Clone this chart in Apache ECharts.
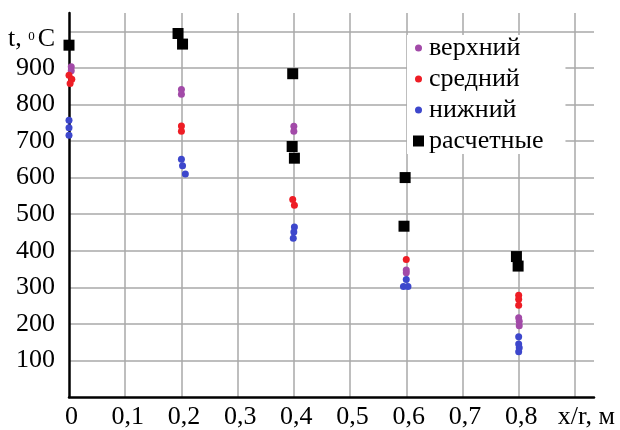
<!DOCTYPE html>
<html>
<head>
<meta charset="utf-8">
<script src="https://cdn.jsdelivr.net/npm/echarts@6/dist/echarts.min.js"></script>
<style>html,body{margin:0;padding:0;background:#fff}#c{width:620px;height:430px}</style>
</head>
<body>
<div id="c"></div>
<script>
// x/r positions and temperatures (°C)
const upperPts = [[0.004, 903], [0.004, 892], [0.2, 841], [0.2, 828], [0.4, 740], [0.4, 727], [0.6, 347], [0.6, 340], [0.8, 217], [0.801, 207], [0.801, 195]];
const middlePts = [[0.0, 880], [0.005, 869], [0.002, 857], [0.2, 741], [0.2, 727], [0.398, 540], [0.401, 524], [0.6, 376], [0.8, 278], [0.8, 267], [0.8, 251]];
const lowerPts = [[0, 757], [0, 736], [0, 716], [0.2, 650], [0.202, 632], [0.207, 610], [0.401, 465], [0.4, 451], [0.399, 434], [0.6, 321], [0.595, 302], [0.603, 302], [0.8, 165], [0.8, 145], [0.801, 135], [0.8, 124]];
const calcPts = [[0, 962], [0.194, 994], [0.202, 965], [0.398, 884], [0.397, 685], [0.401, 653], [0.598, 600], [0.596, 467], [0.796, 384], [0.799, 358]];

const seriesNames = ['верхний', 'средний', 'нижний', 'расчетные'];
const xTickLabels = ['0', '0,1', '0,2', '0,3', '0,4', '0,5', '0,6', '0,7', '0,8', '{u|x/r, м}'];
const yTickLabels = ['', '100', '200', '300', '400', '500', '600', '700', '800', '900', '{t|t, }{s|0}{t|C}'];

const FONT = 'Liberation Serif';
const chart = echarts.init(document.getElementById('c'), null, {renderer: 'canvas'});
const circleIcon = 'path://M0,0M11,11M5.5,2A3.5,3.5,0,1,1,5.5,9A3.5,3.5,0,1,1,5.5,2Z';

chart.setOption({
  animation: false,
  backgroundColor: '#fff',
  grid: {left: 69, right: 26, top: 13, bottom: 32, containLabel: false},
  xAxis: {
    type: 'value', min: 0, max: 0.934, interval: 0.1,
    axisLine: {show: true, onZero: true, lineStyle: {color: '#000', width: 2.5}},
    axisTick: {show: false},
    splitLine: {show: true, showMinLine: false, showMaxLine: false, lineStyle: {color: '#a8a8a8', width: 1.5}},
    axisLabel: {
      show: true, showMaxLabel: false, color: '#000', fontFamily: FONT, fontSize: 26, margin: 7,
      padding: [0, 0, 0, 5],
      formatter: function (v) {
        const i = Math.round(v * 10);
        if (Math.abs(v * 10 - i) > 0.01) return '';
        return xTickLabels[i] || '';
      },
      rich: {u: {fontFamily: FONT, fontSize: 26, color: '#000', padding: [0, 0, 0, 18]}}
    }
  },
  yAxis: {
    type: 'value', min: 0, max: 1050, interval: 100,
    axisLine: {show: true, onZero: true, lineStyle: {color: '#000', width: 2.5}},
    axisTick: {show: false},
    splitLine: {show: true, showMinLine: false, showMaxLine: false, lineStyle: {color: '#a8a8a8', width: 1.5}},
    axisLabel: {
      show: true, showMaxLabel: false, color: '#000', fontFamily: FONT, fontSize: 26, margin: 14,
      formatter: function (v) {
        if (v % 100 !== 0) return '';
        return yTickLabels[v / 100] || '';
      },
      rich: {
        t: {fontFamily: FONT, fontSize: 26, color: '#000', padding: [16, 0, 0, 0]},
        s: {fontFamily: FONT, fontSize: 13, color: '#000', verticalAlign: 'top', padding: [20, 3, 0, 0]}
      }
    }
  },
  legend: {
    orient: 'vertical', left: 407, top: 35,
    backgroundColor: '#fff', padding: [0, 22, 0, 6], itemGap: 5,
    itemWidth: 11, itemHeight: 11,
    textStyle: {fontFamily: FONT, fontSize: 26, color: '#000', padding: [0, 0, 0, 0]},
    data: [
      {name: seriesNames[0], icon: circleIcon},
      {name: seriesNames[1], icon: circleIcon},
      {name: seriesNames[2], icon: circleIcon},
      {name: seriesNames[3], icon: 'rect'}
    ]
  },
  series: [
    {name: seriesNames[0], type: 'scatter', clip: false, symbol: 'circle', symbolSize: 7, itemStyle: {color: '#a24aa8', opacity: 1}, data: upperPts},
    {name: seriesNames[1], type: 'scatter', clip: false, symbol: 'circle', symbolSize: 7, itemStyle: {color: '#ee1d25', opacity: 1}, data: middlePts},
    {name: seriesNames[2], type: 'scatter', clip: false, symbol: 'circle', symbolSize: 7, itemStyle: {color: '#3d47cc', opacity: 1}, data: lowerPts},
    {name: seriesNames[3], type: 'scatter', clip: false, symbol: 'rect', symbolSize: 11, itemStyle: {color: '#000', opacity: 1}, data: calcPts}
  ]
});
</script>
</body>
</html>
